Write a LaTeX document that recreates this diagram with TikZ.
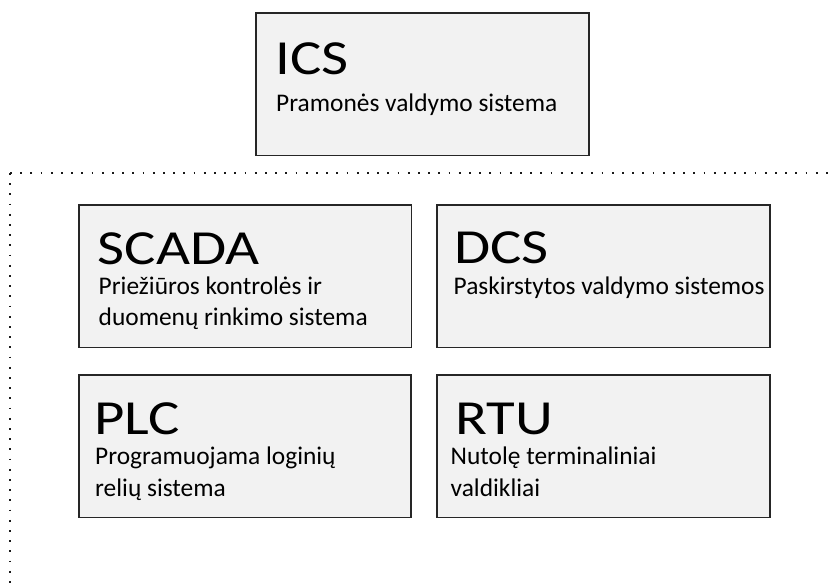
\documentclass[tikz,border=0pt]{standalone}
\usepackage{fontspec}
\newfontfamily\boxfont[FakeStretch=1.2]{Carlito}
\newfontfamily\subfont{Carlito}
\begin{document}
\begin{tikzpicture}[x=1pt,y=-1pt,
  sysbox/.style={draw=black!85, line width=1.2pt, fill=black!5,
    minimum width=333pt, minimum height=142.5pt, inner sep=0pt, outer sep=0pt,
    anchor=north west},
  headline/.style={anchor=base west, inner sep=0pt, font=\boxfont\fontsize{49}{49}\selectfont},
  subline/.style={anchor=base west, inner sep=0pt, font=\subfont\fontsize{25.4}{30}\selectfont},
  dotline/.style={line width=1.8pt, dash pattern=on 1.8pt off 8.4pt, black!90}]
\useasboundingbox (0,0) rectangle (829,583);

% group boundary
\coordinate (corner) at (10,173);
\coordinate (rightend) at (829,173);
\coordinate (bottomend) at (10,583);
\draw[dotline] (corner) -- (rightend);
\draw[dotline] (corner) -- (bottomend);

% ICS
\node[sysbox] (ics) at (256,13) {};
\node[headline] (icsT) at (275,75) {ICS};
\node[subline] (icsS) at (276,111) {Pramonės valdymo sistema};

% SCADA
\node[sysbox, minimum width=332.5pt] (scada) at (79,205) {};
\node[headline] (scadaT) at (97.5,264) {SCADA};
\node[subline] (scadaS1) at (98.5,294) {Priežiūros kontrolės ir};
\node[subline] (scadaS2) at (98.5,325) {duomenų rinkimo sistema};

% DCS
\node[sysbox] (dcs) at (437,205) {};
\node[headline] (dcsT) at (454,263) {DCS};
\node[subline] (dcsS) at (453.5,294) {Paskirstytos valdymo sistemos};

% PLC
\node[sysbox, minimum width=332pt] (plc) at (79,375) {};
\node[headline] (plcT) at (94,434) {PLC};
\node[subline] (plcS1) at (95,464) {Programuojama loginių};
\node[subline] (plcS2) at (95,496) {relių sistema};

% RTU
\node[sysbox] (rtu) at (437,375) {};
\node[headline] (rtuT) at (455,434) {RTU};
\node[subline] (rtuS1) at (450.5,464) {Nutolę terminaliniai};
\node[subline] (rtuS2) at (450.5,496) {valdikliai};
\end{tikzpicture}
\end{document}
